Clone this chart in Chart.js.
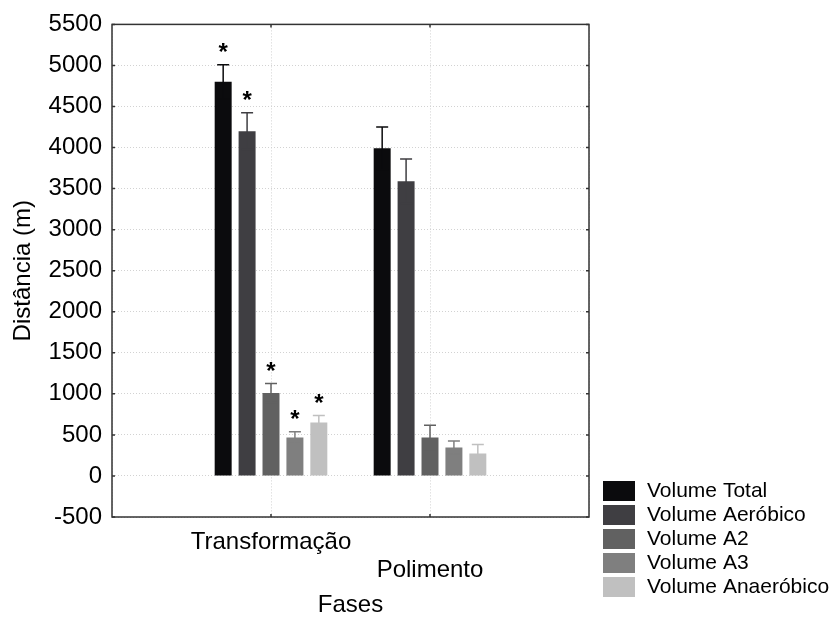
<!DOCTYPE html>
<html>
<head>
<meta charset="utf-8">
<script src="https://cdn.jsdelivr.net/npm/chart.js@4"></script>
<style>
  html, body { margin: 0; padding: 0; background: #fff; }
  #wrap { width: 834px; height: 617px; }
</style>
</head>
<body>
<div id="wrap"><canvas id="fases_chart" width="834" height="617"></canvas></div>
<script>
// Fases do treino
const categories = ['Transformação', 'Polimento'];

// médias (m)
const volumeTotal = [4800, 3990];
const volumeAerobico = [4200, 3590];
const volumeA2 = [1010, 468];
const volumeA3 = [468, 347];
const volumeAnaerobico = [650, 274];

// erro padrão (m)
const erroTotal = [210, 260];
const erroAerobico = [225, 270];
const erroA2 = [115, 150];
const erroA3 = [70, 80];
const erroAnaerobico = [85, 110];

// diferença significativa (*)
const sigTotal = [true, false];
const sigAerobico = [true, false];
const sigA2 = [true, false];
const sigA3 = [true, false];
const sigAnaerobico = [true, false];

const yTicks = [-500, 0, 500, 1000, 1500, 2000, 2500, 3000, 3500, 4000, 4500, 5000, 5500];

const series = [
  { label: 'Volume Total', data: volumeTotal, err: erroTotal, sig: sigTotal, color: '#0b0b0d' },
  { label: 'Volume Aeróbico', data: volumeAerobico, err: erroAerobico, sig: sigAerobico, color: '#3f3e42' },
  { label: 'Volume A2', data: volumeA2, err: erroA2, sig: sigA2, color: '#616161' },
  { label: 'Volume A3', data: volumeA3, err: erroA3, sig: sigA3, color: '#7f7f7f' },
  { label: 'Volume Anaeróbico', data: volumeAnaerobico, err: erroAnaerobico, sig: sigAnaerobico, color: '#c0c0c0' }
];

// categorias vazias nas pontas para deixar os grupos em 1/3 e 2/3 do eixo
const pad = arr => [null, ...arr, null];
const labels = ['', ...categories, ''];

const FONT = 'Arial, "Liberation Sans", sans-serif';

// barras de erro + asteriscos
const errorBars = {
  id: 'errorBars',
  afterDatasetsDraw(chart) {
    const ctx = chart.ctx;
    const y = chart.scales.y;
    chart.data.datasets.forEach((ds, di) => {
      const meta = chart.getDatasetMeta(di);
      meta.data.forEach((bar, i) => {
        const v = ds.data[i];
        if (v === null || v === undefined) return;
        const e = ds.err[i];
        const top = y.getPixelForValue(v + e);
        const bot = y.getPixelForValue(v - e);
        ctx.save();
        ctx.strokeStyle = ds.backgroundColor;
        ctx.lineWidth = 1.5;
        ctx.beginPath();
        ctx.moveTo(bar.x, bot);
        ctx.lineTo(bar.x, top);
        ctx.moveTo(bar.x - 6, top);
        ctx.lineTo(bar.x + 6, top);
        ctx.moveTo(bar.x - 6, bot);
        ctx.lineTo(bar.x + 6, bot);
        ctx.stroke();
        if (ds.sig[i]) {
          ctx.fillStyle = '#000';
          ctx.font = 'bold 24px ' + FONT;
          ctx.textAlign = 'center';
          ctx.textBaseline = 'alphabetic';
          ctx.fillText('*', bar.x, top - 5);
        }
        ctx.restore();
      });
    });
  }
};

// moldura do gráfico com pequenos traços internos
const frame = {
  id: 'frame',
  afterDraw(chart) {
    const { ctx, chartArea: a, scales } = chart;
    ctx.save();
    ctx.strokeStyle = '#333';
    ctx.lineWidth = 1.5;
    ctx.strokeRect(a.left, a.top, a.right - a.left, a.bottom - a.top);
    ctx.beginPath();
    yTicks.forEach(t => {
      const py = scales.y.getPixelForValue(t);
      ctx.moveTo(a.left, py); ctx.lineTo(a.left + 3, py);
      ctx.moveTo(a.right, py); ctx.lineTo(a.right - 3, py);
    });
    categories.forEach((c, i) => {
      const px = scales.x.getPixelForValue(i + 1);
      ctx.moveTo(px, a.top); ctx.lineTo(px, a.top + 3);
      ctx.moveTo(px, a.bottom); ctx.lineTo(px, a.bottom - 3);
    });
    ctx.stroke();
    ctx.restore();
  }
};

// legenda fora da área do gráfico (canto inferior direito)
const sideLegend = {
  id: 'sideLegend',
  afterDraw(chart) {
    const ctx = chart.ctx;
    const x0 = chart.chartArea.right + 14;
    const y0 = 481;
    ctx.save();
    ctx.font = '21px ' + FONT;
    ctx.textBaseline = 'middle';
    ctx.textAlign = 'left';
    chart.data.datasets.forEach((ds, i) => {
      const yy = y0 + i * 24;
      ctx.fillStyle = ds.backgroundColor;
      ctx.fillRect(x0, yy, 32, 20);
      ctx.fillStyle = '#000';
      ctx.fillText(ds.label, x0 + 44, yy + 10);
    });
    ctx.restore();
  }
};

const ctx = document.getElementById('fases_chart').getContext('2d');
window.fasesChart = new Chart(ctx, {
  type: 'bar',
  data: {
    labels: labels,
    datasets: series.map(s => ({
      label: s.label,
      data: pad(s.data),
      err: pad(s.err),
      sig: pad(s.sig),
      backgroundColor: s.color,
      borderWidth: 0,
      categoryPercentage: 0.752,
      barPercentage: 0.71
    }))
  },
  options: {
    responsive: false,
    animation: false,
    layout: { padding: { top: 23, right: 245, left: 0, bottom: 0 } },
    plugins: {
      legend: { display: false },
      tooltip: { enabled: false }
    },
    scales: {
      x: {
        offset: false,
        border: { display: false, dash: [1, 2] },
        grid: { color: '#d2d2d2', drawTicks: false, lineWidth: 1, offset: false },
        ticks: {
          autoSkip: false,
          maxRotation: 0,
          minRotation: 0,
          padding: 11,
          color: '#000',
          font: { family: FONT, size: 24, lineHeight: 1.18 },
          // Polimento uma linha abaixo
          callback: function(val, i) {
            const l = this.getLabelForValue(val);
            return i % 2 === 0 ? ['', l] : l;
          }
        },
        title: {
          display: true,
          text: 'Fases',
          color: '#000',
          padding: 0,
          font: { family: FONT, size: 24, lineHeight: 1 }
        },
        afterFit: s => { s.height = 100; }
      },
      y: {
        min: -500,
        max: 5500,
        border: { display: false, dash: [1, 2] },
        grid: { color: '#d2d2d2', drawTicks: false, lineWidth: 1 },
        afterBuildTicks: s => { s.ticks = yTicks.map(v => ({ value: v })); },
        ticks: {
          padding: 10,
          color: '#000',
          font: { family: FONT, size: 24 },
          callback: v => String(v)
        },
        title: {
          display: true,
          text: 'Distância (m)',
          color: '#000',
          padding: { top: 11, bottom: 0 },
          font: { family: FONT, size: 24, lineHeight: 1 }
        },
        afterFit: s => { s.width = 112; }
      }
    }
  },
  plugins: [errorBars, frame, sideLegend]
});
</script>
</body>
</html>
